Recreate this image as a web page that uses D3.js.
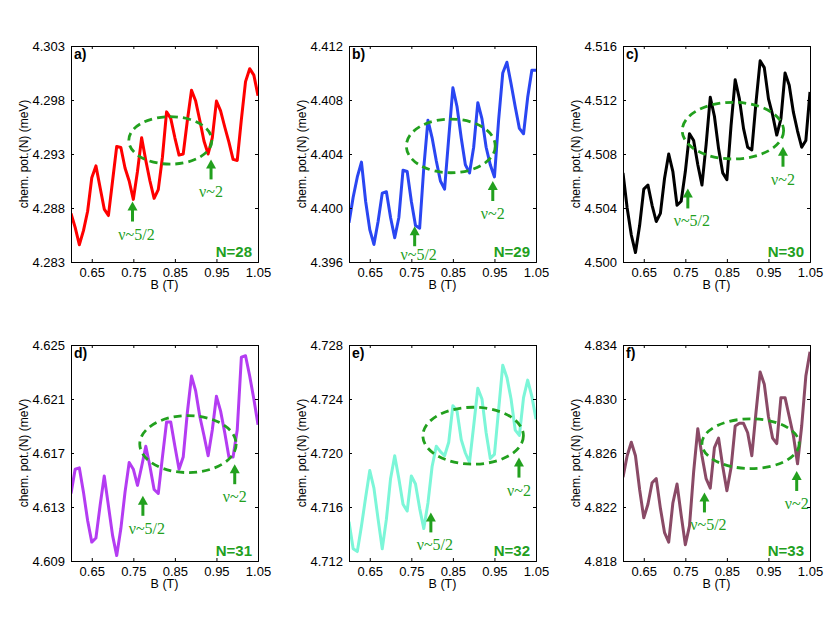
<!DOCTYPE html>
<html>
<head>
<meta charset="utf-8">
<script src="https://cdn.jsdelivr.net/npm/d3@7"></script>
<style>
  body { margin: 0; background: #fff; }
  svg { display: block; }
  text { font-family: "Liberation Sans", Arial, sans-serif; }
</style>
</head>
<body>
<svg id="chart"></svg>
<script>
// magnetic field (T)
const field = [0.60, 0.61, 0.62, 0.63, 0.64, 0.65, 0.66, 0.67, 0.68, 0.69,
  0.70, 0.71, 0.72, 0.73, 0.74, 0.75, 0.76, 0.77, 0.78, 0.79,
  0.80, 0.81, 0.82, 0.83, 0.84, 0.85, 0.86, 0.87, 0.88, 0.89,
  0.90, 0.91, 0.92, 0.93, 0.94, 0.95, 0.96, 0.97, 0.98, 0.99,
  1.00, 1.01, 1.02, 1.03, 1.04, 1.05]

// chemical potential (meV), one series per electron number
const mu28 = [4.2875, 4.2862, 4.2846, 4.2859, 4.2877, 4.2908, 4.2919, 4.2899, 4.2879, 4.2873,
  4.2905, 4.2937, 4.2936, 4.2917, 4.2905, 4.2888, 4.2914, 4.2945, 4.2924, 4.2905,
  4.2889, 4.2897, 4.2927, 4.2969, 4.2963, 4.2945, 4.2929, 4.2930, 4.2961, 4.2989,
  4.2979, 4.2961, 4.2942, 4.2930, 4.2945, 4.2979, 4.2970, 4.2955, 4.2941, 4.2925,
  4.2924, 4.2962, 4.2997, 4.3009, 4.3003, 4.2984]
const mu29 = [4.3989, 4.4008, 4.4023, 4.4034, 4.4005, 4.3984, 4.3973, 4.3990, 4.4011, 4.4012,
  4.3993, 4.3978, 4.3993, 4.4028, 4.4027, 4.4005, 4.3987, 4.3985, 4.4030, 4.4065,
  4.4052, 4.4035, 4.4020, 4.4014, 4.4052, 4.4089, 4.4075, 4.4052, 4.4032, 4.4026,
  4.4045, 4.4078, 4.4066, 4.4045, 4.4032, 4.4023, 4.4065, 4.4100, 4.4108, 4.4092,
  4.4075, 4.4059, 4.4055, 4.4082, 4.4102, 4.4102]
const mu30 = [4.5066, 4.5040, 4.5020, 4.5007, 4.5027, 4.5054, 4.5057, 4.5042, 4.5030, 4.5036,
  4.5062, 4.5080, 4.5067, 4.5042, 4.5045, 4.5067, 4.5095, 4.5090, 4.5072, 4.5057,
  4.5087, 4.5122, 4.5108, 4.5084, 4.5066, 4.5061, 4.5101, 4.5135, 4.5121, 4.5099,
  4.5085, 4.5083, 4.5118, 4.5149, 4.5144, 4.5121, 4.5109, 4.5094, 4.5106, 4.5140,
  4.5131, 4.5111, 4.5097, 4.5085, 4.5090, 4.5126]
const mu31 = [4.6140, 4.6158, 4.6159, 4.6141, 4.6120, 4.6104, 4.6107, 4.6131, 4.6153, 4.6131,
  4.6109, 4.6094, 4.6114, 4.6141, 4.6163, 4.6158, 4.6146, 4.6160, 4.6175, 4.6160,
  4.6143, 4.6140, 4.6167, 4.6193, 4.6193, 4.6175, 4.6158, 4.6167, 4.6200, 4.6227,
  4.6216, 4.6197, 4.6183, 4.6168, 4.6187, 4.6212, 4.6201, 4.6185, 4.6167, 4.6167,
  4.6187, 4.6241, 4.6242, 4.6227, 4.6210, 4.6191]
const mu32 = [4.7149, 4.7129, 4.7127, 4.7146, 4.7167, 4.7187, 4.7174, 4.7151, 4.7129, 4.7151,
  4.7181, 4.7198, 4.7181, 4.7162, 4.7157, 4.7183, 4.7177, 4.7159, 4.7144, 4.7163,
  4.7190, 4.7205, 4.7201, 4.7198, 4.7208, 4.7235, 4.7231, 4.7210, 4.7200, 4.7193,
  4.7220, 4.7248, 4.7240, 4.7215, 4.7196, 4.7199, 4.7232, 4.7265, 4.7256, 4.7240,
  4.7217, 4.7213, 4.7241, 4.7254, 4.7242, 4.7225]
const mu33 = [4.8242, 4.8258, 4.8268, 4.8258, 4.8233, 4.8212, 4.8222, 4.8238, 4.8241, 4.8219,
  4.8201, 4.8194, 4.8223, 4.8237, 4.8214, 4.8192, 4.8206, 4.8246, 4.8278, 4.8258,
  4.8241, 4.8234, 4.8264, 4.8271, 4.8250, 4.8232, 4.8249, 4.8280, 4.8282, 4.8282,
  4.8275, 4.8258, 4.8290, 4.8320, 4.8311, 4.8287, 4.8271, 4.8267, 4.8301, 4.8301,
  4.8287, 4.8273, 4.8252, 4.8280, 4.8317, 4.8335]

const series = [mu28, mu29, mu30, mu31, mu32, mu33]
const panelLetters = ['a)', 'b)', 'c)', 'd)', 'e)', 'f)']
const electronCounts = [28, 29, 30, 31, 32, 33]
const lineColors = ['#ff0000', '#2a46f2', '#000000', '#b43cf2', '#7cf6d8', '#8a4a66']

const xTicks = [0.65, 0.75, 0.85, 0.95, 1.05]
const yTicks = [
  [4.283, 4.288, 4.293, 4.298, 4.303],
  [4.396, 4.400, 4.404, 4.408, 4.412],
  [4.500, 4.504, 4.508, 4.512, 4.516],
  [4.609, 4.613, 4.617, 4.621, 4.625],
  [4.712, 4.716, 4.720, 4.724, 4.728],
  [4.818, 4.822, 4.826, 4.830, 4.834]
]

// annotations in data units: ellipse [B centre, mu centre, B half-width, mu half-height]
const ellipses = [
  [0.839, 4.29426, 0.100, 0.00220],
  [0.845, 4.40460, 0.107, 0.00199],
  [0.8645, 4.50973, 0.122, 0.00210],
  [0.8815, 4.61766, 0.116, 0.00211],
  [0.8987, 4.72128, 0.121, 0.00211],
  [0.907, 4.82669, 0.117, 0.00184]
]
// arrow tips [B, mu] for nu~5/2 and nu~2
const arrowsFiveHalves = [
  [0.748, 4.2886], [0.758, 4.39865], [0.756, 4.50545],
  [0.773, 4.61383], [0.797, 4.7156], [0.796, 4.82308]
]
const arrowsTwo = [
  [0.937, 4.2925], [0.946, 4.4020], [0.985, 4.50854],
  [0.994, 4.61617], [1.009, 4.71966], [1.018, 4.82467]
]

const width = 830
const height = 622
const colLefts = [71, 349, 623]
const rowTops = [46, 345]
const plotW = 187
const plotH = 216
const green = '#22a01e'

const svg = d3.select('#chart').attr('width', width).attr('height', height)

series.forEach((values, i) => {
  const left = colLefts[i % 3]
  const top = rowTops[Math.floor(i / 3)]

  const x = d3.scaleLinear().domain([0.6, 1.05]).range([0, plotW])
  const y = d3.scaleLinear().domain(d3.extent(yTicks[i])).range([plotH, 0])

  const g = svg.append('g').attr('transform', 'translate(' + left + ',' + top + ')')

  g.append('defs').append('clipPath').attr('id', 'clip' + i)
    .append('rect').attr('width', plotW).attr('height', plotH)

  // data line
  const line = d3.line().x((d, j) => x(field[j])).y(d => y(d))
  g.append('path')
    .datum(values)
    .attr('clip-path', 'url(#clip' + i + ')')
    .attr('fill', 'none')
    .attr('stroke', lineColors[i])
    .attr('stroke-width', 3)
    .attr('stroke-linejoin', 'round')
    .attr('d', line)

  // axes with inward ticks on all four sides
  const fmt = d3.format('.3f')
  g.append('g').attr('transform', 'translate(0,' + plotH + ')')
    .call(d3.axisBottom(x).tickValues(xTicks).tickSize(-3).tickPadding(6).tickFormat(d3.format('.2f')))
  g.append('g')
    .call(d3.axisTop(x).tickValues(xTicks).tickSize(-3).tickFormat(''))
  g.append('g')
    .call(d3.axisLeft(y).tickValues(yTicks[i]).tickSize(-3).tickPadding(6).tickFormat(fmt))
  g.append('g').attr('transform', 'translate(' + plotW + ',0)')
    .call(d3.axisRight(y).tickValues(yTicks[i]).tickSize(-3).tickFormat(''))

  g.selectAll('.domain').attr('stroke', '#000').attr('stroke-width', 1)
  g.selectAll('.tick line').attr('stroke', '#000')
  g.selectAll('.tick text')
    .attr('fill', '#000')
    .style('font-size', '13px')
    .style('font-family', '"Liberation Sans", Arial, sans-serif')

  // axis titles
  g.append('text')
    .attr('x', plotW / 2)
    .attr('y', plotH + 27)
    .attr('text-anchor', 'middle')
    .style('font-size', '12.5px')
    .text('B (T)')
  g.append('text')
    .attr('transform', 'translate(-43,' + plotH / 2 + ') rotate(-90)')
    .attr('text-anchor', 'middle')
    .style('font-size', '12px')
    .text('chem. pot.(N) (meV)')

  // panel letter and electron number
  g.append('text')
    .attr('x', 3).attr('y', 13)
    .style('font-size', '14px').style('font-weight', 'bold')
    .text(panelLetters[i])
  g.append('text')
    .attr('x', plotW - 6).attr('y', plotH - 5)
    .attr('text-anchor', 'end')
    .attr('fill', green)
    .style('font-size', '15px').style('font-weight', 'bold')
    .text('N=' + electronCounts[i])

  // dashed ellipse
  const e = ellipses[i]
  g.append('ellipse')
    .attr('cx', x(e[0]))
    .attr('cy', y(e[1]))
    .attr('rx', x(e[0] + e[2]) - x(e[0]))
    .attr('ry', y(e[1]) - y(e[1] + e[3]))
    .attr('fill', 'none')
    .attr('stroke', green)
    .attr('stroke-width', 2.8)
    .attr('stroke-dasharray', '8,5')

  // arrows with labels
  const arrows = [
    { tip: arrowsFiveHalves[i], label: 'ν~5/2', dx: 4 },
    { tip: arrowsTwo[i], label: 'ν~2', dx: 0 }
  ]
  arrows.forEach(a => {
    const ax = x(a.tip[0])
    const ay = y(a.tip[1])
    g.append('line')
      .attr('x1', ax).attr('x2', ax)
      .attr('y1', ay + 6).attr('y2', ay + 20)
      .attr('stroke', green)
      .attr('stroke-width', 3)
    g.append('path')
      .attr('d', 'M' + ax + ',' + ay + 'L' + (ax - 5) + ',' + (ay + 9) + 'L' + (ax + 5) + ',' + (ay + 9) + 'Z')
      .attr('fill', green)
    // keep the label inside the box so it clears the tick labels
    g.append('text')
      .attr('x', ax + a.dx)
      .attr('y', Math.min(ay + 38, plotH - 2))
      .attr('text-anchor', 'middle')
      .attr('fill', green)
      .style('font-family', '"Liberation Serif", "Times New Roman", serif')
      .style('font-size', '16px')
      .text(a.label)
  })
})
</script>
</body>
</html>
